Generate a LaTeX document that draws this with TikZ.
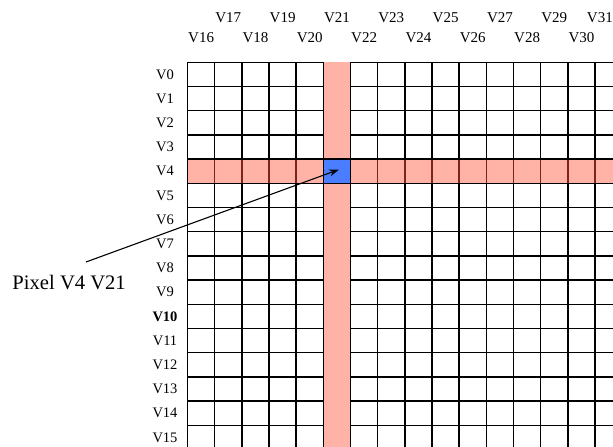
\documentclass[tikz,border=0pt]{standalone}
\usepackage{fontspec}
\setmainfont{Liberation Serif}
\usetikzlibrary{arrows.meta}
\definecolor{pinkhl}{RGB}{255,179,167}
\definecolor{bluehl}{RGB}{74,125,255}
\definecolor{rowline}{RGB}{125,35,25}
\begin{document}
\begin{tikzpicture}[x=1pt,y=-1pt,
  gridline/.style={line width=1.5pt, black},
  collbl/.style={font=\fontsize{15}{15}\selectfont, inner sep=0pt},
  rowlbl/.style={font=\fontsize{14.5}{14.5}\selectfont, inner sep=0pt},
  callout/.style={font=\fontsize{20.6}{20.6}\selectfont, inner sep=0pt},
  pointer/.style={-{Stealth[length=10pt,width=7pt]}, line width=1.1pt}]
\useasboundingbox (0,0) rectangle (613,447);
\fill[white] (0,0) rectangle (613,447);
\clip (0,0) rectangle (613,447);
\def\X{187.5}\def\W{27.17}\def\Y{62.3}\def\H{24.2}
% highlighted row
\fill[pinkhl] (\X,{\Y+4*\H}) rectangle ({\X+16*\W},{\Y+5*\H});
% grid
\foreach \i in {0,...,16} {
  \draw[gridline] ({\X+\i*\W},\Y) -- ({\X+\i*\W},{\Y+16*\H});
  \draw[gridline] (\X,{\Y+\i*\H}) -- ({\X+16*\W},{\Y+\i*\H});
}
% vertical lines inside the row, seen through the tint
\foreach \i in {1,...,15} {
  \draw[line width=1.5pt, rowline] ({\X+\i*\W},{\Y+4*\H+0.75}) -- ({\X+\i*\W},{\Y+5*\H-0.75});
}
% highlighted column
\fill[pinkhl] ({\X+5*\W+0.75},\Y) rectangle ({\X+6*\W-0.75},{\Y+16*\H+5});
% selected pixel
\node[draw, line width=1.5pt, fill=bluehl, minimum width=27.17pt, minimum height=24.2pt, inner sep=0pt]
  (pixel) at ({\X+5.5*\W},{\Y+4.5*\H}) {};
% column labels
\foreach \k in {0,...,14} {
  \pgfmathtruncatemacro\n{16+\k}
  \pgfmathsetmacro\ly{mod(\k,2)==0 ? 38 : 18}
  \node[collbl] (c\n) at ({\X+(\k+0.5)*\W},\ly) {V\n};
}
\node[collbl, anchor=east] (c31) at (613,18) {V31};
% row labels
\foreach \k in {0,...,15} {
  \ifnum\k=10
    \node[rowlbl, font=\fontsize{14.5}{14.5}\selectfont\bfseries] (r\k) at (165,{\Y+(\k+0.5)*\H}) {V\k};
  \else
    \node[rowlbl] (r\k) at (165,{\Y+(\k+0.5)*\H}) {V\k};
  \fi
}
% callout
\node[callout, anchor=base east] (callout) at (126,289) {Pixel V4 V21};
\coordinate (start) at (86,262);
\coordinate (tip) at (339,169.5);
\draw[pointer] (start) -- (tip);
\end{tikzpicture}
\end{document}
